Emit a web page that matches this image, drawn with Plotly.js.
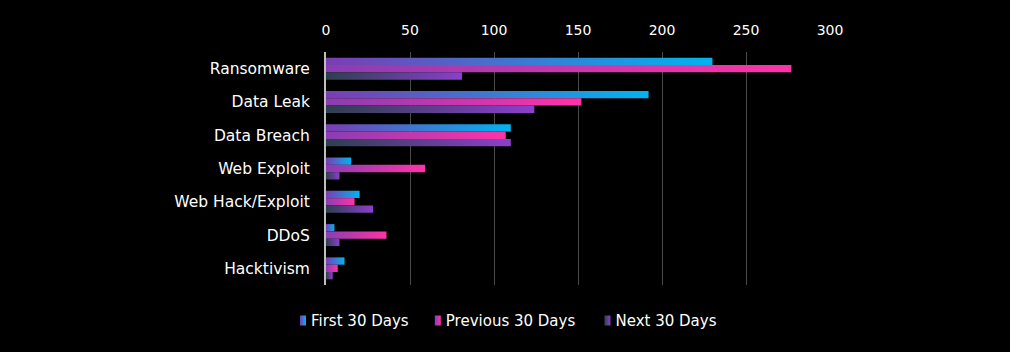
<!DOCTYPE html>
<html><head><meta charset="utf-8">
<script src="https://cdn.plot.ly/plotly-3.0.1.min.js"></script>
<style>html,body{margin:0;padding:0;background:#000;}</style>
</head><body>
<div id="chart" style="width:1010px;height:352px;"></div>
<script>
const categories = ["Ransomware","Data Leak","Data Breach","Web Exploit","Web Hack/Exploit","DDoS","Hacktivism"];
const firstDays = [230, 192, 110, 15, 20, 5, 11];
const previousDays = [277, 152, 107, 59, 17, 36, 7];
const nextDays = [81, 124, 110, 8, 28, 8, 4];
const seriesNames = ["First 30 Days","Previous 30 Days","Next 30 Days"];
const xTicks = [0,50,100,150,200,250,300];
const gradients = [["#7a3db2","#00b4f0"],["#8a3db2","#ff33a8"],["#2e3f4f","#8c3fcc"]];
const solid = ["#00b4f0","#ff33a8","#8c3fcc"];
const legendShift = [-2, -10, -15];

const vals = [firstDays, previousDays, nextDays];
const traces = vals.map((v,i)=>({
  type:'bar', orientation:'h', name:seriesNames[i], y:categories, x:v,
  marker:{color:solid[i], line:{width:0}}, hoverinfo:'x+name'
}));

const layout = {
  width:1010, height:352,
  paper_bgcolor:'#000', plot_bgcolor:'#000',
  margin:{l:326, r:180, t:52, b:67},
  barmode:'group', bargap:0.34, bargroupgap:0,
  font:{family:'"DejaVu Sans", sans-serif', color:'#ffffff', size:14},
  xaxis:{side:'top', range:[0,300], tickvals:xTicks,
    showgrid:true, gridcolor:'#4a4a4a', gridwidth:1, zeroline:false,
    tickfont:{size:14,color:'#fff'}, ticks:'', showline:false, fixedrange:true, ticklabelstandoff:13},
  yaxis:{autorange:'reversed', showline:true, linecolor:'#bfbfbf', linewidth:2,
    tickfont:{size:15.5,color:'#fff'}, ticks:'', ticklen:0, showgrid:false, fixedrange:true, ticklabelstandoff:11},
  showlegend:true,
  legend:{orientation:'h', xref:'container', yref:'container', x:0.5, xanchor:'center', y:0.042, yanchor:'bottom',
    font:{size:15,color:'#fff'}, traceorder:'normal', itemwidth:30, bgcolor:'rgba(0,0,0,0)'}
};

function applyGradients(gd){
  const svg = gd.querySelector('.main-svg');
  if(!svg) return;
  let defs = svg.querySelector('defs');
  if(!defs){ defs = document.createElementNS('http://www.w3.org/2000/svg','defs'); svg.insertBefore(defs, svg.firstChild); }
  gradients.forEach((g,i)=>{
    const id='barGrad'+i;
    if(svg.querySelector('#'+id)) return;
    const lg=document.createElementNS('http://www.w3.org/2000/svg','linearGradient');
    lg.setAttribute('id',id); lg.setAttribute('x1','0'); lg.setAttribute('y1','0'); lg.setAttribute('x2','1'); lg.setAttribute('y2','0');
    g.forEach((c,k)=>{const s=document.createElementNS('http://www.w3.org/2000/svg','stop');
      s.setAttribute('offset', k===0?'0':'1'); s.setAttribute('stop-color',c); lg.appendChild(s);});
    defs.appendChild(lg);
  });
  gd.querySelectorAll('.barlayer .trace').forEach(t=>{
    const idx = t.__data__ && t.__data__[0] && t.__data__[0].trace ? t.__data__[0].trace.index : null;
    if(idx===null) return;
    t.querySelectorAll('path').forEach(p=>{p.style.fill='url(#barGrad'+idx+')';});
  });
  gd.querySelectorAll('.legend .traces').forEach(t=>{
    const idx = t.__data__ && t.__data__[0] && t.__data__[0].trace ? t.__data__[0].trace.index : null;
    if(idx===null) return;
    t.querySelectorAll('.legendpoints path').forEach(p=>{
      p.style.fill='url(#barGrad'+idx+')'; p.style.stroke='none';
      p.setAttribute('d','M-3,-5h6v10h-6Z');
    });
    const lp = t.querySelector('.legendpoints');
    if(lp) lp.setAttribute('transform','translate(12,0)');
    const tr = t.getAttribute('transform') || '';
    const m = tr.match(/translate\(\s*([-\d.]+)[ ,]+([-\d.]+)\s*\)/);
    if(m){
      const nx = parseFloat(m[1]) + legendShift[idx];
      t.setAttribute('transform','translate('+nx+','+m[2]+')');
    }
  });
}

const gd = document.getElementById('chart');
Plotly.newPlot(gd, traces, layout, {displayModeBar:false, staticPlot:true}).then(()=>{
  applyGradients(gd);
});
</script>
</body></html>
